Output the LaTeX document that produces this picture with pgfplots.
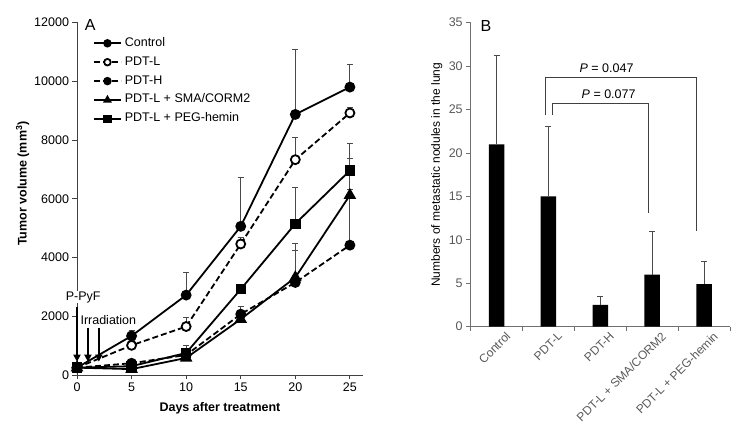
\documentclass[border=0pt]{standalone}
\usepackage{fontspec}
\setmainfont{Liberation Sans}
\usepackage{pgfplots}
\pgfplotsset{compat=1.18}
\usetikzlibrary{arrows.meta}
\newcommand\f{\fontsize{12.5}{15}\selectfont}
\definecolor{axA}{HTML}{404040}
\definecolor{axB}{HTML}{707070}
\definecolor{tlB}{HTML}{595959}
\definecolor{errc}{HTML}{4A4A4A}
\pgfplotsset{
  myerr/.style={
    /pgfplots/error bars/y dir=plus,
    /pgfplots/error bars/y explicit,
    /pgfplots/error bars/error bar style={errc, line width=0.9pt, solid},
    /pgfplots/error bars/error mark options={errc, mark size=3pt, rotate=90, line width=0.9pt, solid}}
}
\begin{document}
\begin{tikzpicture}
\useasboundingbox (0pt,0pt) rectangle (742pt,427pt);
% ---------------- Panel A ----------------
\begin{axis}[
  name=A,
  scale only axis, width=286pt, height=352.5pt,
  at={(77pt,52pt)}, anchor=south west,
  xmin=0, xmax=26.2, ymin=0, ymax=12000,
  clip=false,
  axis x line*=bottom, axis y line*=left,
  axis line style={axA, line width=0.9pt},
  tick align=outside, major tick length=4.5pt,
  tick style={axA, line width=0.9pt},
  xtick={0,5,10,15,20,25}, ytick={0,2000,...,12000},
  scaled y ticks=false,
  /pgf/number format/assume math mode=true,
  /pgf/number format/1000 sep={},
  tick label style={font=\f},
  xlabel={\bfseries Days after treatment},
  ylabel={\bfseries Tumor volume (mm\textsuperscript{3})},
  every axis x label/.style={at={(axis description cs:0.5,-0.094)}, anchor=center, font=\f},
  every axis y label/.style={at={(axis description cs:-0.19,0.543)}, anchor=center, rotate=90, font=\f},
  legend image code/.code={\draw[mark repeat=2,mark phase=2,#1,mark size=3.3pt] plot coordinates {(0pt,0pt) (13.5pt,0pt) (27pt,0pt)};},
  legend style={at={(axis cs:1.47,11496)}, anchor=north west, draw=none, fill=none,
     inner sep=0pt, outer sep=0pt, row sep=6.9pt,
     nodes={inner sep=0pt, text height=9pt, text depth=3pt, font=\f},
     /tikz/every odd column/.append style={column sep=3pt}},
  legend cell align=left,
  every axis plot/.append style={line width=1.8pt, black, mark size=4.5pt},
]
\addplot[myerr, mark=*, mark options={solid}] coordinates {
 (0,250) +- (0,0) (5,1330) +- (0,200) (10,2720) +- (0,780) (15,5060) +- (0,1670) (20,8870) +- (0,2210) (25,9800) +- (0,780)};
\addlegendentry{Control}
\addplot[myerr, dash pattern=on 6pt off 3pt, mark=*, mark options={solid, fill=white}] coordinates {
 (0,250) +- (0,0) (5,1010) +- (0,150) (10,1650) +- (0,300) (15,4460) +- (0,230) (20,7330) +- (0,770) (25,8920) +- (0,200)};
\addlegendentry{PDT-L}
\addplot[myerr, dash pattern=on 6pt off 3pt, mark=*, mark options={solid}] coordinates {
 (0,250) +- (0,0) (5,400) +- (0,100) (10,680) +- (0,150) (15,2070) +- (0,260) (20,3150) +- (0,1080) (25,4420) +- (0,1890)};
\addlegendentry{PDT-H}
\addplot[myerr, mark=triangle*, mark size=5.5pt, mark options={solid}] coordinates {
 (0,250) +- (0,0) (5,200) +- (0,50) (10,580) +- (0,150) (15,1900) +- (0,100) (20,3320) +- (0,1160) (25,6120) +- (0,1250)};
\addlegendentry{PDT-L + SMA/CORM2}
\addplot[myerr, mark=square*, mark size=4.3pt, mark options={solid}] coordinates {
 (0,250) +- (0,0) (5,300) +- (0,100) (10,750) +- (0,270) (15,2920) +- (0,0) (20,5150) +- (0,1240) (25,6960) +- (0,920)};
\addlegendentry{PDT-L + PEG-hemin}
\node[font=\f, anchor=center, fill=white, inner sep=0.5pt] at (axis cs:0.57,2655) {P-PyF};
\node[font=\f, anchor=center, fill=white, inner sep=0.5pt] at (axis cs:2.87,1872) {Irradiation};
\draw[line width=2pt, -{Triangle[width=7pt,length=7pt]}] (axis cs:0,2300) -- (axis cs:0,453);
\draw[line width=2pt, -{Triangle[width=7pt,length=7pt]}] (axis cs:1,1610) -- (axis cs:1,453);
\draw[line width=2pt, -{Triangle[width=7pt,length=7pt]}] (axis cs:2,1610) -- (axis cs:2,453);
\node[font=\fontsize{16}{19}\selectfont, anchor=center] at (axis cs:1.2,11915) {A};
\end{axis}
% ---------------- Panel B ----------------
\begin{axis}[
  name=B,
  scale only axis, width=259.3pt, height=304pt,
  at={(470.7pt,100.3pt)}, anchor=south west,
  xmin=-0.5, xmax=4.5, ymin=0, ymax=35,
  clip=false,
  axis x line*=bottom, axis y line*=left,
  axis line style={axB, line width=0.9pt},
  tick align=outside, major tick length=4.5pt,
  tick style={axB, line width=0.9pt},
  ytick={0,5,...,35},
  xtick={-0.5,0.5,...,4.5}, xticklabels={},
  extra x ticks={0,1,2,3,4},
  extra x tick labels={Control, PDT-L, PDT-H, PDT-L + SMA/CORM2, PDT-L + PEG-hemin},
  extra x tick style={major tick length=0pt,
     xticklabel style={rotate=45, anchor=north east, inner sep=0pt, yshift=-9pt, xshift=3pt, font=\fontsize{12}{14}\selectfont, text=tlB}},
  /pgf/number format/assume math mode=true,
  yticklabel style={font=\f, text=tlB},
  ylabel={Numbers of metastatic nodules in the lung},
  every axis y label/.style={at={(axis description cs:-0.131,0.5)}, anchor=center, rotate=90, font=\fontsize{12}{14}\selectfont},
]
\addplot[myerr, ybar, bar width=15.5pt, fill=black, draw=none]
 coordinates {(0,21) +- (0,10.2) (1,15) +- (0,8) (2,2.5) +- (0,1) (3,6) +- (0,5) (4,4.9) +- (0,2.6)};
\draw[axA, line width=0.9pt] (axis cs:0.944,24.4) |- (axis cs:3.85,28.65) -- (axis cs:3.85,11.05);
\draw[axA, line width=0.9pt] (axis cs:1.08,24.4) |- (axis cs:2.93,25.7) -- (axis cs:2.93,13.1);
\node[font=\f] at (axis cs:2.12,29.8) {\textit{P} = 0.047};
\node[font=\f] at (axis cs:2.16,26.75) {\textit{P} = 0.077};
\node[font=\fontsize{16}{19}\selectfont, anchor=center] at (axis cs:-0.206,34.6) {B};
\end{axis}
\end{tikzpicture}
\end{document}
